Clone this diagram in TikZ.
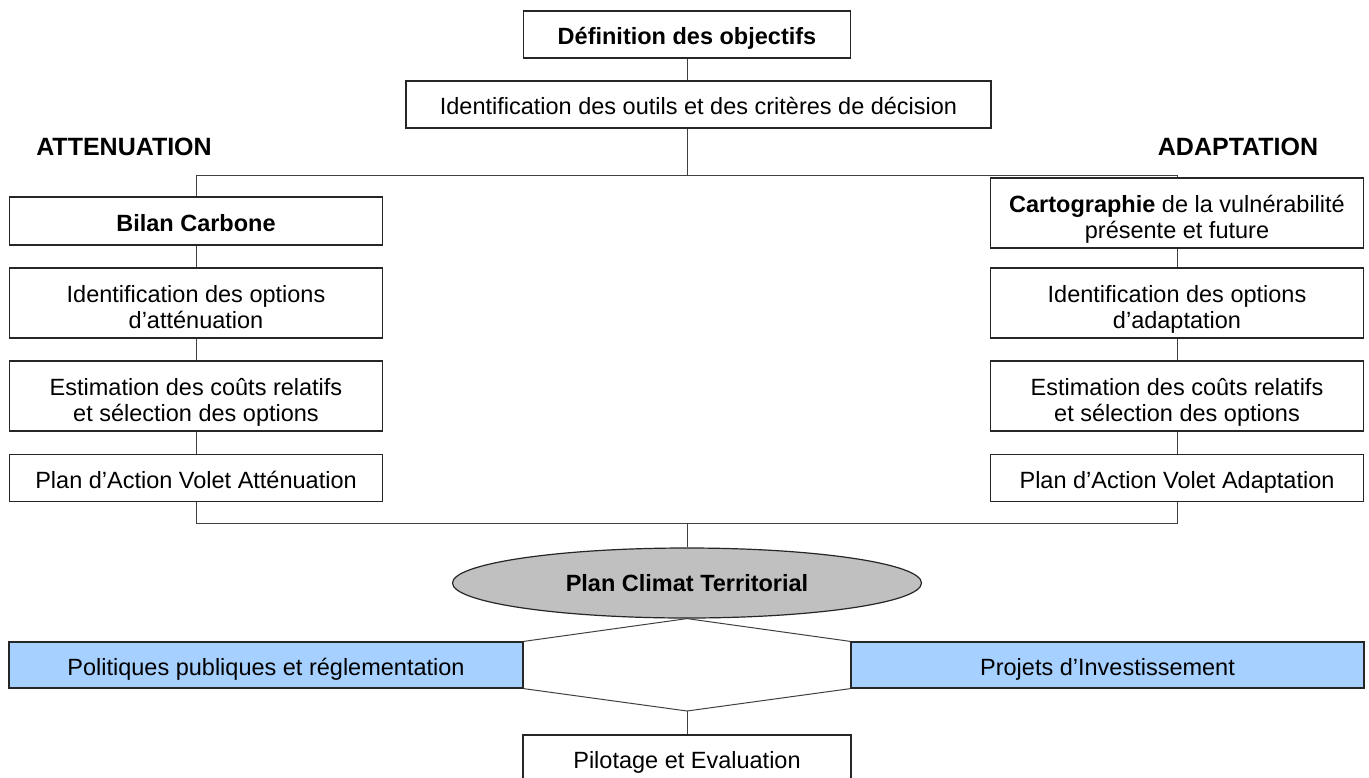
\documentclass[tikz,border=0pt]{standalone}
\usepackage{fontspec}
\setmainfont{Liberation Sans}
\usetikzlibrary{shapes.geometric}
\definecolor{paleblue}{RGB}{166,208,255}
\definecolor{ovalgray}{RGB}{192,192,192}

\begin{document}
\begin{tikzpicture}[x=1pt,y=-1pt,
    box/.style={draw=black!85,line width=1.2pt,fill=white,align=center,inner sep=0pt,
      font=\fontsize{23.5}{26}\selectfont,
      execute at begin node={\rule{0pt}{25pt}},
      execute at end node={\rule[-5pt]{0pt}{5pt}}},
    twolines/.style={execute at end node={\rule[-5pt]{0pt}{60pt}}},
    colbox/.style={box,minimum width=373pt},
    header/.style={font=\fontsize{25}{25}\selectfont\bfseries},
    link/.style={draw=black!75,line width=1pt}]
    \useasboundingbox (0,0) rectangle (1369,777);
    % haut
    \node[box,minimum width=327pt,minimum height=47pt] (objectifs) at (687,34.5) {\textbf{Définition des objectifs}};
    \node[box,minimum width=585pt,minimum height=47pt] (outils) at (698.5,104.5) {Identification des outils et des critères de décision};
    \node[header] (attenuation) at (124,147) {ATTENUATION};
    \node[header] (adaptation) at (1238,147) {ADAPTATION};
    \coordinate (barTop) at (687,175);
    \coordinate (barBot) at (687,523);
    % colonnes
    \node[colbox,minimum height=48pt] (diagL) at (196,221) {\textbf{Bilan Carbone}};
    \node[colbox,twolines,minimum height=70pt] (diagR) at (1177,213) {\textbf{Cartographie} de la vulnérabilité\\présente et future};
    \foreach \s/\x/\mot/\Mot in {L/196/atténuation/Atténuation, R/1177/adaptation/Adaptation} {
      \node[colbox,twolines,minimum height=70pt] (ident\s) at (\x,303) {Identification des options\\d’\mot};
      \node[colbox,twolines,minimum height=70pt] (estim\s) at (\x,396) {Estimation des coûts relatifs\\et sélection des options};
      \node[colbox,minimum height=47pt] (plan\s) at (\x,478) {Plan d’Action Volet \Mot};
      \draw[link] (diag\s) -- (ident\s);
      \draw[link] (ident\s) -- (estim\s);
      \draw[link] (estim\s) -- (plan\s);
    }
    % bas
    \node[ellipse,draw=black!85,line width=1.2pt,fill=ovalgray,minimum width=469pt,minimum height=70pt,inner sep=0pt,
      font=\fontsize{23.5}{26}\selectfont\bfseries] (pct) at (687,583) {Plan Climat Territorial};
    \node[box,fill=paleblue,minimum width=514pt,minimum height=46pt] (politiques) at (266,665) {Politiques publiques et réglementation};
    \node[box,fill=paleblue,minimum width=513pt,minimum height=46pt] (projets) at (1107.5,665) {Projets d’Investissement};
    \node[box,minimum width=328pt,minimum height=46pt] (pilotage) at (687,758) {Pilotage et Evaluation};
    \coordinate (join) at (687,711);

    \draw[link] (objectifs) -- (objectifs.south |- outils.north);
    \draw[link] (objectifs.south |- outils.south) -- (barTop);
    \draw[link] (diagL.north) -- (diagL.north |- barTop) -- (diagR.north |- barTop) -- (diagR.north);
    \draw[link] (planL.south) -- (planL.south |- barBot) -- (planR.south |- barBot) -- (planR.south);
    \draw[link] (barBot) -- (pct.north);
    \draw[link] (politiques.north east) -- (pct.south) -- (projets.north west);
    \draw[link] (politiques.south east) -- (join) -- (projets.south west);
    \draw[link] (join) -- (pilotage.north);
\end{tikzpicture}
\end{document}
